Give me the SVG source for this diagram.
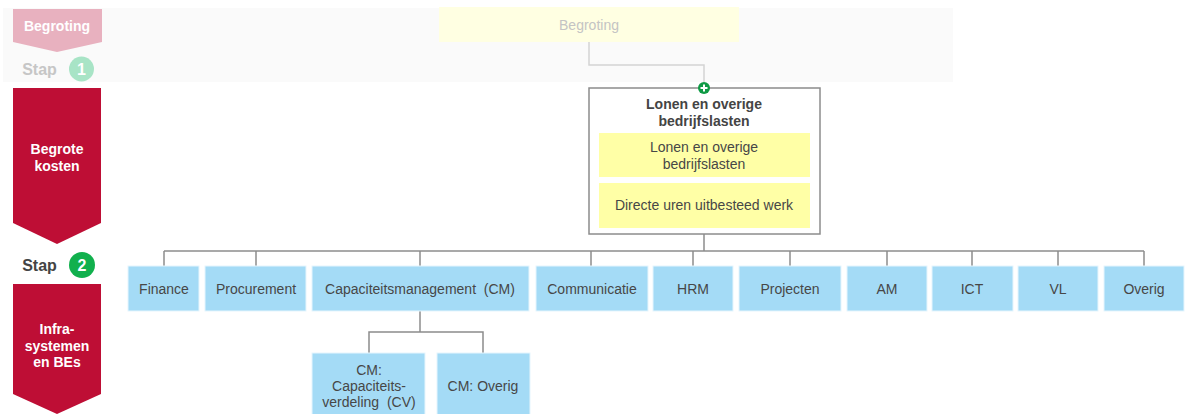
<svg xmlns="http://www.w3.org/2000/svg" width="1185" height="414" viewBox="0 0 1185 414">
<style>
.t{font-family:"Liberation Sans",Arial,sans-serif;font-size:14px;fill:#474747;text-anchor:middle;dominant-baseline:central}
.w{font-family:"Liberation Sans",Arial,sans-serif;font-size:14px;font-weight:bold;fill:#fff;text-anchor:middle;dominant-baseline:central}
.b{font-family:"Liberation Sans",Arial,sans-serif;font-size:14px;font-weight:bold;fill:#444;text-anchor:middle;dominant-baseline:central}
.s{font-family:"Liberation Sans",Arial,sans-serif;font-size:16px;font-weight:bold;text-anchor:middle;dominant-baseline:central}
.blue{fill:#a4dbf6;stroke:#e6f5fd;stroke-width:1}
.yel{fill:#ffffa6}
.c{fill:none;stroke:#8c8c8c;stroke-width:1.5}
</style>
<rect x="3" y="8" width="950" height="74" fill="#fafafa"/>
<g id="steps">
<polygon points="13,9 102,9 102,42 57,52 13,42" fill="#e8b1bf"/>
<text class="w" x="57" y="26">Begroting</text>
<text class="s" x="39.5" y="69" style="fill:#c6c6c6">Stap</text>
<circle cx="81.5" cy="69" r="12.5" fill="#a8e4c6"/>
<text class="s" x="81.5" y="69" style="fill:#fff">1</text>
<polygon points="13,88 101,88 101,223 57,244 13,223" fill="#be0e35"/>
<text class="w" x="57" y="149">Begrote</text>
<text class="w" x="57" y="166">kosten</text>
<text class="s" x="39.5" y="265" style="fill:#444">Stap</text>
<circle cx="82" cy="265" r="13" fill="#11b04d"/>
<text class="s" x="82" y="265" style="fill:#fff">2</text>
<polygon points="13,284 101,284 101,394 57,414 13,394" fill="#be0e35"/>
<text class="w" x="57" y="329">Infra-</text>
<text class="w" x="57" y="346">systemen</text>
<text class="w" x="57" y="362">en BEs</text>
</g>
<g id="connectors">
<polyline points="589,42 589,65 704,65 704,82" fill="none" stroke="#d4d4d4" stroke-width="1.5"/>
<line class="c" x1="704" y1="234" x2="704" y2="251"/>
<line class="c" x1="164" y1="251" x2="1144" y2="251"/>
<line class="c" x1="164" y1="251" x2="164" y2="266"/>
<line class="c" x1="256" y1="251" x2="256" y2="266"/>
<line class="c" x1="420" y1="251" x2="420" y2="266"/>
<line class="c" x1="591" y1="251" x2="591" y2="266"/>
<line class="c" x1="693" y1="251" x2="693" y2="266"/>
<line class="c" x1="790" y1="251" x2="790" y2="266"/>
<line class="c" x1="887" y1="251" x2="887" y2="266"/>
<line class="c" x1="972" y1="251" x2="972" y2="266"/>
<line class="c" x1="1058" y1="251" x2="1058" y2="266"/>
<line class="c" x1="1144" y1="251" x2="1144" y2="266"/>
<line class="c" x1="420" y1="311" x2="420" y2="332"/>
<polyline class="c" points="369,353 369,332 483,332 483,353"/>
</g>
<g id="n-begroting">
<rect x="439" y="7" width="300" height="35" fill="#ffffe2"/>
<text class="t" x="589" y="25" style="fill:#c4c4c4">Begroting</text>
</g>
<g id="n-lonen">
<rect x="589" y="88" width="231" height="146" fill="#fff" stroke="#8c8c8c" stroke-width="1.5"/>
<circle cx="704" cy="88" r="6" fill="#0f9a45"/>
<path d="M700.5,88h7M704,84.5v7" stroke="#fff" stroke-width="2"/>
<text class="b" x="704" y="104">Lonen en overige</text>
<text class="b" x="704" y="121">bedrijfslasten</text>
<rect class="yel" x="599" y="133" width="211" height="44"/>
<text class="t" x="704" y="147">Lonen en overige</text>
<text class="t" x="704" y="164">bedrijfslasten</text>
<rect class="yel" x="599" y="183" width="211" height="45"/>
<text class="t" x="704" y="205">Directe uren uitbesteed werk</text>
</g>
<g id="n-finance"><rect class="blue" x="128" y="266" width="71" height="45"/><text class="t" x="164" y="289">Finance</text></g>
<g id="n-procurement"><rect class="blue" x="205" y="266" width="101" height="45"/><text class="t" x="256" y="289">Procurement</text></g>
<g id="n-cm"><rect class="blue" x="312" y="266" width="217" height="45"/><text class="t" x="420" y="289" xml:space="preserve">Capaciteitsmanagement  (CM)</text></g>
<g id="n-communicatie"><rect class="blue" x="536" y="266" width="112" height="45"/><text class="t" x="592" y="289">Communicatie</text></g>
<g id="n-hrm"><rect class="blue" x="653" y="266" width="80" height="45"/><text class="t" x="693" y="289">HRM</text></g>
<g id="n-projecten"><rect class="blue" x="739" y="266" width="102" height="45"/><text class="t" x="790" y="289">Projecten</text></g>
<g id="n-am"><rect class="blue" x="847" y="266" width="80" height="45"/><text class="t" x="887" y="289">AM</text></g>
<g id="n-ict"><rect class="blue" x="932" y="266" width="81" height="45"/><text class="t" x="972" y="289">ICT</text></g>
<g id="n-vl"><rect class="blue" x="1018" y="266" width="80" height="45"/><text class="t" x="1058" y="289">VL</text></g>
<g id="n-overig"><rect class="blue" x="1104" y="266" width="80" height="45"/><text class="t" x="1144" y="289">Overig</text></g>
<g id="n-cv"><rect class="blue" x="312" y="353" width="113" height="62"/>
<text class="t" x="369" y="370">CM:</text><text class="t" x="369" y="386">Capaciteits-</text><text class="t" x="369" y="402" xml:space="preserve">verdeling  (CV)</text></g>
<g id="n-cmoverig"><rect class="blue" x="437" y="353" width="93" height="62"/><text class="t" x="483" y="386">CM: Overig</text></g>
</svg>
